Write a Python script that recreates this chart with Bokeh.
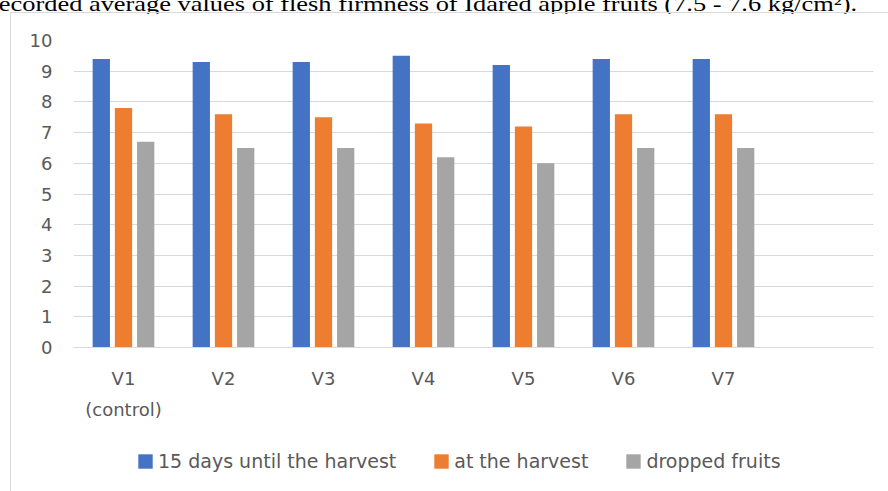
from bokeh.plotting import figure
from bokeh.models import (ColumnDataSource, Legend, LegendItem, FactorRange, Range1d,
                          FixedTicker, CategoricalAxis, Div)
from bokeh.layouts import column
from bokeh.transform import dodge
from bokeh.embed import file_html
from bokeh.resources import INLINE

# ---- data ----
categories = ["V1", "V2", "V3", "V4", "V5", "V6", "V7"]
empty_slot = [" "]
second_line = ["(control)", " ", "  ", "   ", "    ", "     ", "      ", "       "]
before_harvest = [9.4, 9.3, 9.3, 9.5, 9.2, 9.4, 9.4]
at_harvest = [7.8, 7.6, 7.5, 7.3, 7.2, 7.6, 7.6]
dropped = [6.7, 6.5, 6.5, 6.2, 6.0, 6.5, 6.5]
series_names = ["15 days until the harvest", "at the harvest", "dropped fruits"]
series_colors = ["#4472C4", "#ED7D31", "#A5A5A5"]
y_ticks = [0, 1, 2, 3, 4, 5, 6, 7, 8, 9, 10]
caption = "recorded average values of flesh firmness of Idared apple fruits (7.5 - 7.6 kg/cm²)."

TXT = "#595959"
GRID = "#d9d9d9"
FONT = "DejaVu Sans"
KEYS = ["s0", "s1", "s2"]

source = ColumnDataSource(dict(cat=categories, s0=before_harvest, s1=at_harvest, s2=dropped))

p = figure(width=877, height=417, output_backend="svg", toolbar_location=None,
           x_range=FactorRange(factors=categories + empty_slot, range_padding=0),
           y_range=Range1d(0, 10),
           min_border_left=62, min_border_right=15, min_border_top=27, min_border_bottom=83)
p.margin = (0, 0, 0, 11)
p.outline_line_color = None
p.extra_x_ranges = {"sub": FactorRange(factors=second_line, range_padding=0)}

offsets = [-0.222, 0.0, 0.222]
for i, key in enumerate(KEYS):
    p.vbar(x=dodge("cat", offsets[i], range=p.x_range), top=key, width=0.173,
           source=source, fill_color=series_colors[i], line_color=None)

p.xgrid.grid_line_color = None
p.ygrid.grid_line_color = GRID
p.ygrid.grid_line_width = 1
p.yaxis.ticker = FixedTicker(ticks=y_ticks)
p.yaxis.axis_line_color = None
p.yaxis.major_tick_line_color = None
p.yaxis.major_tick_out = 0
p.yaxis.major_tick_in = 0
p.yaxis.minor_tick_line_color = None
p.yaxis.major_label_standoff = 21
p.yaxis.major_label_text_font = FONT
p.yaxis.major_label_text_font_size = "18px"
p.yaxis.major_label_text_color = TXT

p.xaxis.axis_line_color = GRID
p.xaxis.major_tick_line_color = None
p.xaxis.major_tick_out = 0
p.xaxis.major_tick_in = 0
p.xaxis.minor_tick_line_color = None
p.xaxis.major_label_standoff = 20
p.xaxis.major_label_text_font = FONT
p.xaxis.major_label_text_font_size = "18px"
p.xaxis.major_label_text_color = TXT

# second line of the first category label
ax2 = CategoricalAxis(x_range_name="sub", axis_line_color=None,
                      major_tick_line_color=None, major_tick_out=0, major_tick_in=0,
                      minor_tick_line_color=None, major_label_standoff=7,
                      major_label_text_font=FONT, major_label_text_font_size="18px",
                      major_label_text_color=TXT)
p.add_layout(ax2, "below")

# legend strip under the chart (hidden copies of the series supply the legend keys)
lg = figure(width=877, height=61, output_backend="svg", toolbar_location=None,
            x_range=FactorRange(factors=categories + empty_slot), y_range=Range1d(0, 10),
            x_axis_type=None, y_axis_type=None,
            min_border_left=0, min_border_right=0, min_border_top=0, min_border_bottom=0)
lg.margin = (0, 0, 0, 11)
lg.outline_line_color = None
lg.xgrid.visible = False
lg.ygrid.visible = False
lg_renderers = [lg.vbar(x="cat", top=KEYS[i], width=0.1, source=source,
                        fill_color=series_colors[i], line_color=None, visible=False)
                for i in range(3)]
legend = Legend(items=[LegendItem(label=series_names[i], renderers=[lg_renderers[i]]) for i in range(3)],
                orientation="horizontal", location=(63, 19),
                glyph_width=18, glyph_height=18, label_standoff=4, spacing=36,
                padding=0, margin=0, border_line_color=None, background_fill_alpha=0,
                label_text_font=FONT, label_text_font_size="19px", label_text_color=TXT)
lg.add_layout(legend)

cap = Div(text=('<div style="position:relative;top:-7px;left:-10px;white-space:nowrap;'
                'transform:scaleX(1.2);transform-origin:left top;'
                'font-family:\'Liberation Serif\';font-size:22px;line-height:22px;color:#000">'
                + caption + '</div>'
                '<div style="position:absolute;left:10px;top:12px;width:878px;height:1px;'
                'background:#d9d9d9"></div>'),
          width=888, height=13, margin=0)

page = column(cap, p, lg, spacing=0, margin=0)
page.styles = {
    "background-image": "linear-gradient(#d9d9d9, #d9d9d9)",
    "background-size": "1px 100%",
    "background-position": "10px 12px",
    "background-repeat": "no-repeat",
}

open("out.html", "w").write(file_html(page, INLINE))
